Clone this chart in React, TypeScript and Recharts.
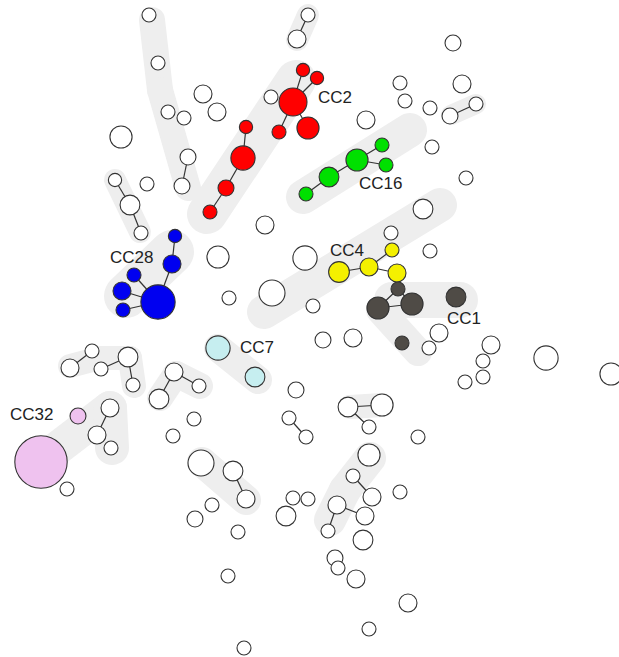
import { ScatterChart, Scatter, XAxis, YAxis, ZAxis, ReferenceLine } from "recharts";

// layout coordinates of each sequence type (minimum spanning tree), n = relative number of isolates
type Node = { id: string; x: number; y: number; n: number };

const singletons: Node[] = [
  { id: "w1", x: 149, y: 15, n: 1 },
  { id: "w2", x: 158, y: 63, n: 1 },
  { id: "w3", x: 203, y: 94, n: 1.65 },
  { id: "w4", x: 217, y: 112, n: 1.65 },
  { id: "w5", x: 168, y: 112, n: 1 },
  { id: "w6", x: 184, y: 118, n: 1 },
  { id: "w7", x: 121, y: 137, n: 2.5 },
  { id: "w8", x: 188, y: 157, n: 1.3 },
  { id: "w9", x: 182, y: 186, n: 1.3 },
  { id: "w10", x: 115, y: 180, n: 0.9 },
  { id: "w11", x: 147, y: 184, n: 1 },
  { id: "w12", x: 130, y: 205, n: 2 },
  { id: "w13", x: 141, y: 233, n: 1 },
  { id: "w14", x: 308, y: 15, n: 1 },
  { id: "w15", x: 297, y: 39, n: 1.65 },
  { id: "w16", x: 271, y: 97, n: 1 },
  { id: "w17", x: 400, y: 83, n: 1 },
  { id: "w18", x: 405, y: 101, n: 1 },
  { id: "w19", x: 366, y: 120, n: 1.65 },
  { id: "w20", x: 453, y: 43, n: 1.3 },
  { id: "w21", x: 462, y: 84, n: 1.65 },
  { id: "w22", x: 430, y: 108, n: 1 },
  { id: "w23", x: 450, y: 116, n: 1.3 },
  { id: "w24", x: 476, y: 104, n: 1 },
  { id: "w25", x: 432, y: 147, n: 1 },
  { id: "w26", x: 466, y: 178, n: 1 },
  { id: "w27", x: 423, y: 209, n: 2 },
  { id: "w28", x: 265, y: 225, n: 1.65 },
  { id: "w29", x: 391, y: 233, n: 1 },
  { id: "w30", x: 430, y: 251, n: 1 },
  { id: "w31", x: 218, y: 257, n: 2.5 },
  { id: "w32", x: 305, y: 258, n: 3 },
  { id: "w33", x: 229, y: 298, n: 1 },
  { id: "w34", x: 272, y: 293, n: 3.45 },
  { id: "w35", x: 313, y: 306, n: 1 },
  { id: "w36", x: 323, y: 340, n: 1.3 },
  { id: "w37", x: 353, y: 338, n: 1.65 },
  { id: "w38", x: 439, y: 333, n: 1.65 },
  { id: "w39", x: 429, y: 348, n: 1 },
  { id: "w40", x: 491, y: 345, n: 1.65 },
  { id: "w41", x: 483, y: 361, n: 1 },
  { id: "w42", x: 483, y: 377, n: 1 },
  { id: "w43", x: 465, y: 382, n: 1 },
  { id: "w44", x: 546, y: 358, n: 3 },
  { id: "w45", x: 611, y: 374, n: 2.5 },
  { id: "w46", x: 70, y: 368, n: 1.65 },
  { id: "w47", x: 92, y: 351, n: 1 },
  { id: "w48", x: 101, y: 369, n: 1 },
  { id: "w49", x: 128, y: 357, n: 2 },
  { id: "w50", x: 133, y: 385, n: 1 },
  { id: "w51", x: 174, y: 372, n: 1.65 },
  { id: "w52", x: 159, y: 399, n: 2 },
  { id: "w53", x: 199, y: 386, n: 1 },
  { id: "w54", x: 110, y: 408, n: 1.65 },
  { id: "w55", x: 97, y: 435, n: 1.65 },
  { id: "w56", x: 111, y: 448, n: 1 },
  { id: "w57", x: 194, y: 419, n: 1 },
  { id: "w58", x: 173, y: 436, n: 1 },
  { id: "w59", x: 67, y: 489, n: 1 },
  { id: "w60", x: 296, y: 390, n: 1.3 },
  { id: "w61", x: 348, y: 407, n: 2 },
  { id: "w62", x: 382, y: 405, n: 2.5 },
  { id: "w63", x: 369, y: 427, n: 1 },
  { id: "w64", x: 289, y: 418, n: 1 },
  { id: "w65", x: 306, y: 437, n: 1 },
  { id: "w66", x: 418, y: 437, n: 1 },
  { id: "w67", x: 201, y: 463, n: 3.45 },
  { id: "w68", x: 233, y: 471, n: 2 },
  { id: "w69", x: 246, y: 499, n: 1.65 },
  { id: "w70", x: 212, y: 505, n: 1 },
  { id: "w71", x: 238, y: 532, n: 1 },
  { id: "w72", x: 228, y: 576, n: 1 },
  { id: "w73", x: 244, y: 648, n: 1 },
  { id: "w74", x: 293, y: 498, n: 1 },
  { id: "w75", x: 308, y: 499, n: 1 },
  { id: "w76", x: 286, y: 516, n: 2 },
  { id: "w77", x: 369, y: 455, n: 2.5 },
  { id: "w78", x: 353, y: 476, n: 1 },
  { id: "w79", x: 372, y: 497, n: 1.65 },
  { id: "w80", x: 337, y: 505, n: 1.65 },
  { id: "w81", x: 365, y: 516, n: 1.65 },
  { id: "w82", x: 328, y: 531, n: 1 },
  { id: "w83", x: 400, y: 492, n: 1 },
  { id: "w84", x: 363, y: 540, n: 2 },
  { id: "w85", x: 335, y: 558, n: 1.3 },
  { id: "w86", x: 338, y: 568, n: 1 },
  { id: "w87", x: 356, y: 579, n: 1.65 },
  { id: "w88", x: 408, y: 603, n: 1.65 },
  { id: "w89", x: 369, y: 629, n: 1 },
  { id: "w90", x: 195, y: 519, n: 1.3 },
];

const cc2: Node[] = [
  { id: "r1", x: 303, y: 70, n: 0.9 },
  { id: "r2", x: 317, y: 78, n: 0.9 },
  { id: "r3", x: 293, y: 102, n: 4 },
  { id: "r4", x: 308, y: 128, n: 2.5 },
  { id: "r5", x: 279, y: 132, n: 1 },
  { id: "r6", x: 246, y: 127, n: 0.9 },
  { id: "r7", x: 243, y: 158, n: 3 },
  { id: "r8", x: 226, y: 188, n: 1.3 },
  { id: "r9", x: 210, y: 212, n: 1 },
];

const cc16: Node[] = [
  { id: "g1", x: 382, y: 145, n: 1 },
  { id: "g2", x: 386, y: 165, n: 1 },
  { id: "g3", x: 357, y: 160, n: 2.5 },
  { id: "g4", x: 329, y: 177, n: 2 },
  { id: "g5", x: 306, y: 194, n: 1 },
];

const cc28: Node[] = [
  { id: "b1", x: 175, y: 236, n: 0.9 },
  { id: "b2", x: 172, y: 264, n: 1.65 },
  { id: "b3", x: 134, y: 275, n: 1 },
  { id: "b4", x: 122, y: 291, n: 1.65 },
  { id: "b5", x: 123, y: 310, n: 1 },
  { id: "b6", x: 158, y: 302, n: 6 },
];

const cc4: Node[] = [
  { id: "y1", x: 392, y: 250, n: 1 },
  { id: "y2", x: 339, y: 272, n: 2.2 },
  { id: "y3", x: 369, y: 267, n: 1.65 },
  { id: "y4", x: 397, y: 273, n: 1.65 },
];

const cc1: Node[] = [
  { id: "d1", x: 398, y: 289, n: 1 },
  { id: "d2", x: 378, y: 308, n: 2.5 },
  { id: "d3", x: 412, y: 304, n: 2.5 },
  { id: "d4", x: 456, y: 297, n: 2 },
  { id: "d5", x: 402, y: 343, n: 1 },
];

const cc7: Node[] = [
  { id: "c1", x: 218, y: 348, n: 3 },
  { id: "c2", x: 255, y: 377, n: 2 },
];

const cc32: Node[] = [
  { id: "p1", x: 78, y: 416, n: 1.3 },
  { id: "p2", x: 41, y: 462, n: 14 },
];

const links: [string, string][] = [
  ["w14", "w15"], ["w23", "w24"], ["w10", "w12"], ["w8", "w9"], ["w12", "w13"],
  ["r1", "r3"], ["r2", "r3"], ["r3", "r4"], ["r3", "r5"], ["r6", "r7"], ["r7", "r8"], ["r8", "r9"],
  ["g3", "g1"], ["g3", "g2"], ["g3", "g4"], ["g4", "g5"],
  ["b1", "b2"], ["b2", "b6"], ["b6", "b3"], ["b6", "b4"], ["b6", "b5"],
  ["y2", "y3"], ["y3", "y1"], ["y3", "y4"],
  ["d1", "d2"], ["d1", "d3"], ["d2", "d3"],
  ["w46", "w47"], ["w48", "w49"], ["w49", "w50"], ["w51", "w52"], ["w51", "w53"], ["w54", "w55"],
  ["w61", "w62"], ["w61", "w63"], ["w64", "w65"], ["w68", "w69"], ["w78", "w79"],
  ["w80", "w81"], ["w80", "w82"],
];

// grey hulls drawn behind groups of related sequence types
const hulls: { path: [number, number][]; w: number }[] = [
  { path: [[152, 20], [160, 90], [188, 188]], w: 26 },
  { path: [[297, 40], [308, 15]], w: 22 },
  { path: [[207, 214], [296, 80]], w: 40 },
  { path: [[303, 197], [410, 130]], w: 34 },
  { path: [[264, 312], [440, 205]], w: 34 },
  { path: [[392, 300], [460, 300]], w: 36 },
  { path: [[380, 310], [418, 352]], w: 28 },
  { path: [[126, 296], [172, 252]], w: 44 },
  { path: [[115, 180], [140, 232]], w: 22 },
  { path: [[70, 366], [100, 358], [130, 358], [134, 386]], w: 24 },
  { path: [[160, 398], [176, 374], [200, 386]], w: 26 },
  { path: [[42, 460], [110, 408], [112, 448]], w: 34 },
  { path: [[218, 348], [258, 380]], w: 28 },
  { path: [[202, 462], [246, 500]], w: 30 },
  { path: [[330, 520], [345, 490], [370, 458]], w: 32 },
  { path: [[350, 407], [382, 405]], w: 24 },
  { path: [[451, 115], [476, 104]], w: 20 },
];

const ccLabels = [
  { text: "CC2", x: 318, y: 97 },
  { text: "CC16", x: 359, y: 183 },
  { text: "CC28", x: 110, y: 257 },
  { text: "CC4", x: 330, y: 250 },
  { text: "CC1", x: 447, y: 318 },
  { text: "CC7", x: 240, y: 347 },
  { text: "CC32", x: 10, y: 414 },
];

const allNodes = [...singletons, ...cc2, ...cc16, ...cc28, ...cc4, ...cc1, ...cc7, ...cc32];
const byId: Record<string, Node> = Object.fromEntries(allNodes.map((d) => [d.id, d]));

const groups = [
  { name: "singletons", data: singletons, fill: "#ffffff" },
  { name: "CC2", data: cc2, fill: "#ff0000" },
  { name: "CC16", data: cc16, fill: "#00e000" },
  { name: "CC28", data: cc28, fill: "#0000f0" },
  { name: "CC4", data: cc4, fill: "#f4f000" },
  { name: "CC1", data: cc1, fill: "#4f4b46" },
  { name: "CC7", data: cc7, fill: "#c6eef0" },
  { name: "CC32", data: cc32, fill: "#efc2ef" },
];

const circleShape = (fill: string) => (props: any) => {
  const r = props.width ? props.width / 2 : 7;
  return <circle cx={props.cx} cy={props.cy} r={r} fill={fill} stroke="#333" strokeWidth={1.1} />;
};

const labelShape = (props: any) => (
  <text
    x={props.cx}
    y={props.cy}
    dominantBaseline="central"
    fontSize={17}
    fontFamily="'Liberation Sans', Arial, sans-serif"
    fill="#222"
  >
    {props.payload.text}
  </text>
);

export default function App() {
  return (
    <div style={{ position: "absolute", left: 0, top: 0, background: "#fff" }}>
      <ScatterChart width={619} height={657} margin={{ top: 0, right: 0, bottom: 0, left: 0 }}>
        <XAxis type="number" dataKey="x" domain={[0, 619]} hide allowDataOverflow />
        <YAxis type="number" dataKey="y" domain={[0, 657]} reversed hide allowDataOverflow />
        <ZAxis type="number" dataKey="n" domain={[0, 14]} range={[0, 2155]} />
        {hulls.flatMap((h, i) =>
          h.path.slice(1).map((p, j) => (
            <ReferenceLine
              key={`h${i}-${j}`}
              segment={[
                { x: h.path[j][0], y: h.path[j][1] },
                { x: p[0], y: p[1] },
              ]}
              stroke="#eeeeee"
              strokeWidth={h.w}
              strokeLinecap="round"
              ifOverflow="visible"
            />
          ))
        )}
        {links.map(([a, b]) => (
          <ReferenceLine
            key={`${a}-${b}`}
            segment={[
              { x: byId[a].x, y: byId[a].y },
              { x: byId[b].x, y: byId[b].y },
            ]}
            stroke="#333"
            strokeWidth={1.2}
            ifOverflow="visible"
          />
        ))}
        {groups.map((g) => (
          <Scatter
            key={g.name}
            name={g.name}
            data={g.data}
            shape={circleShape(g.fill)}
            isAnimationActive={false}
          />
        ))}
        <Scatter name="labels" data={ccLabels} shape={labelShape} isAnimationActive={false} />
      </ScatterChart>
    </div>
  );
}
